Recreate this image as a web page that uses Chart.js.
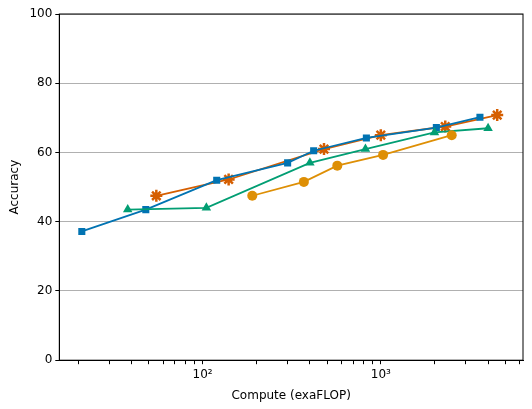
<!DOCTYPE html>
<html>
<head>
<meta charset="utf-8">
<script src="https://cdn.jsdelivr.net/npm/chart.js@4"></script>
<style>
  html, body { margin: 0; padding: 0; background: #fff; }
  #wrap { width: 532px; height: 409px; }
</style>
</head>
<body>
<div id="wrap"><canvas id="chart"></canvas></div>
<script>
// Series: [compute exaFLOP, accuracy]
const blueX = [21, 48, 120, 300, 420, 830, 2050, 3600];
const blueY = [37.2, 43.5, 52, 57, 60.5, 64.2, 67.2, 70.2];
const orangeX = [55, 140, 480, 1000, 2300, 4500];
const orangeY = [47.5, 52.2, 61, 65, 67.5, 70.8];
const greenX = [38, 105, 400, 820, 2000, 4000];
const greenY = [43.5, 44, 57, 61, 65.8, 67];
const yellowX = [190, 370, 570, 1030, 2500];
const yellowY = [47.5, 51.5, 56.2, 59.3, 65];

const xTicks = [20, 30, 40, 50, 60, 70, 80, 90, 100, 200, 300, 400, 500, 600, 700, 800, 900, 1000, 2000, 3000, 4000, 5000, 6000];
const xLabels = { 100: '10²', 1000: '10³' };

const pts = (xs, ys) => xs.map((x, i) => ({ x, y: ys[i] }));
const series = (data, color, style, r, bw) => ({
  data, borderColor: color, backgroundColor: color, pointStyle: style,
  pointRadius: r, borderWidth: 1.8, pointBorderWidth: bw
});

// full box around the plot area
const frame = {
  id: 'frame',
  afterDraw(chart) {
    const { ctx, chartArea: a } = chart;
    ctx.save();
    ctx.strokeStyle = '#000';
    ctx.lineWidth = 1;
    ctx.strokeRect(a.left, a.top, a.right - a.left, a.bottom - a.top);
    ctx.restore();
  }
};

new Chart(document.getElementById('chart').getContext('2d'), {
  type: 'line',
  data: {
    datasets: [
      series(pts(yellowX, yellowY), '#de8f05', 'circle', 5, 0),
      series(pts(greenX, greenY), '#029e73', 'triangle', 5.5, 0),
      series(pts(blueX, blueY), '#0173b2', 'rect', 5, 0),
      series(pts(orangeX, orangeY), '#d55e00', 'star', 6, 2.5)
    ]
  },
  options: {
    responsive: true,
    maintainAspectRatio: false,
    animation: false,
    layout: { padding: { top: 14, right: 9, left: 4, bottom: 2 } },
    plugins: { legend: { display: false }, tooltip: { enabled: false } },
    scales: {
      x: {
        type: 'logarithmic', min: 15.7, max: 6280,
        afterBuildTicks: axis => { axis.ticks = xTicks.map(v => ({ value: v })); },
        ticks: {
          autoSkip: false, maxRotation: 0, color: '#000',
          font: { family: 'DejaVu Sans', size: 12 },
          callback: v => xLabels[v] || ''
        },
        grid: { drawOnChartArea: false, drawTicks: true, tickLength: 4, color: '#000' },
        border: { color: '#000' },
        title: { display: true, text: 'Compute (exaFLOP)', color: '#000', font: { family: 'DejaVu Sans', size: 12 } }
      },
      y: {
        min: 0, max: 100,
        ticks: { stepSize: 20, color: '#000', font: { family: 'DejaVu Sans', size: 12 } },
        grid: { color: '#b0b0b0', tickColor: '#000', tickLength: 4 },
        border: { color: '#000' },
        title: { display: true, text: 'Accuracy', color: '#000', font: { family: 'DejaVu Sans', size: 12 } }
      }
    }
  },
  plugins: [frame]
});
</script>
</body>
</html>
